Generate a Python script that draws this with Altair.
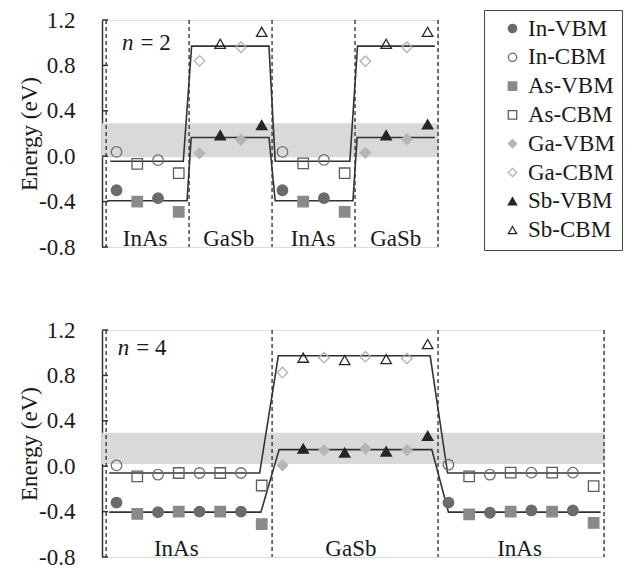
import altair as alt
import pandas as pd

FONT = "Liberation Serif"
FS = 23

# ---- legend / series definitions ----
series_names = ["In-VBM", "In-CBM", "As-VBM", "As-CBM", "Ga-VBM", "Ga-CBM", "Sb-VBM", "Sb-CBM"]
series_shapes = ["circle", "circle", "square", "square", "diamond", "diamond", "triangle-up", "triangle-up"]
series_fill = ["#6b6b6b", "transparent", "#8a8a8a", "transparent", "#b5b5b5", "transparent", "#262626", "transparent"]
series_stroke = ["#6b6b6b", "#6e6e6e", "#8a8a8a", "#5e5e5e", "#b5b5b5", "#b0b0b0", "#262626", "#262626"]

# ---- panel n = 2 ----
top_species = ["In", "As", "In", "As", "Ga", "Sb", "Ga", "Sb",
               "In", "As", "In", "As", "Ga", "Sb", "Ga", "Sb"]
top_vbm = [-0.30, -0.40, -0.37, -0.49, 0.025, 0.185, 0.145, 0.275,
           -0.30, -0.40, -0.37, -0.49, 0.03, 0.185, 0.15, 0.28]
top_cbm = [0.038, -0.068, -0.035, -0.15, 0.84, 0.99, 0.96, 1.095,
           0.038, -0.064, -0.033, -0.15, 0.837, 0.99, 0.96, 1.096]
top_line_cbm_x = [0.2, 3.72, 4.12, 7.85, 8.15, 11.75, 12.12, 15.85]
top_line_cbm = [-0.045, -0.045, 0.97, 0.97, -0.045, -0.045, 0.97, 0.97]
top_line_vbm_x = [0.05, 3.9, 4.1, 7.85, 8.15, 11.9, 12.1, 15.85]
top_line_vbm = [-0.393, -0.393, 0.165, 0.165, -0.393, -0.393, 0.165, 0.165]
top_bounds = [0, 4, 8, 12, 16]
top_band = [-0.01, 0.29]
top_regions = ["InAs", "GaSb", "InAs", "GaSb"]
top_region_x = [1.88, 5.91, 9.98, 13.96]
top_note = ["n", "= 2"]
top_note_pos = [0.77, 0.94]
top_xmax = 16

# ---- panel n = 4 ----
bot_species = ["In", "As"] * 4 + ["Ga", "Sb"] * 4 + ["In", "As"] * 4
bot_vbm = [-0.32, -0.42, -0.405, -0.40, -0.40, -0.40, -0.40, -0.51,
           0.007, 0.155, 0.14, 0.12, 0.155, 0.13, 0.14, 0.267,
           -0.32, -0.425, -0.41, -0.40, -0.39, -0.40, -0.39, -0.50]
bot_cbm = [0.007, -0.09, -0.075, -0.06, -0.06, -0.06, -0.06, -0.17,
           0.826, 0.956, 0.956, 0.935, 0.965, 0.944, 0.95, 1.076,
           0.013, -0.09, -0.075, -0.057, -0.057, -0.057, -0.057, -0.175]
bot_line_cbm_x = [0.15, 7.4, 8.3, 15.62, 16.46, 23.84]
bot_line_cbm = [-0.06, -0.06, 0.973, 0.973, -0.06, -0.06]
bot_line_vbm_x = [0.15, 7.46, 8.34, 15.7, 16.5, 23.84]
bot_line_vbm = [-0.405, -0.405, 0.146, 0.146, -0.405, -0.405]
bot_bounds = [0, 8, 16, 24]
bot_band = [0.02, 0.295]
bot_regions = ["InAs", "GaSb", "InAs"]
bot_region_x = [3.38, 11.8, 19.93]
bot_note = ["n", "= 4"]
bot_note_pos = [0.565, 0.98]
bot_xmax = 24

tick_vals = [-0.8, -0.4, 0.0, 0.4, 0.8, 1.2]
region_label_y = -0.787
XMIN = -0.2
PX_PER_UNIT = 20.76
H = 227

yscale = alt.Scale(domain=[-0.8, 1.2], nice=False, zero=False)
yaxis = alt.Axis(values=tick_vals, ticks=False, grid=False,
                 labelExpr="replace(format(datum.value, '.1f'), '\u2212', '-')",
                 domainColor="#333333", domainWidth=1.5,
                 labelFont=FONT, labelFontSize=FS, labelColor="#1a1a1a", labelPadding=27,
                 title="Energy (eV)", titleFont=FONT, titleFontSize=FS, titleFontWeight="normal",
                 titleColor="#1a1a1a", titlePadding=-3)

legend = alt.Legend(title=None, orient="none", legendX=382, legendY=-10,
                    strokeColor="#444444", padding=7, symbolOffset=10,
                    labelFont=FONT, labelFontSize=FS, labelColor="#1a1a1a", labelOffset=4,
                    symbolSize=70, symbolStrokeWidth=1.3, rowPadding=4.8)


def panel(species, vbm, cbm, lcx, lc, lvx, lv, bounds, band, regions, region_x, note, note_pos, xmax):
    xscale = alt.Scale(domain=[XMIN, xmax], nice=False, zero=False)
    width = round((xmax - XMIN) * PX_PER_UNIT)

    rows = []
    for i, sp in enumerate(species):
        rows.append({"x": i + 0.5, "E": vbm[i], "series": sp + "-VBM"})
        rows.append({"x": i + 0.5, "E": cbm[i], "series": sp + "-CBM"})
    pts = pd.DataFrame(rows)

    lines = pd.DataFrame(
        [{"x": x, "E": e, "band": "CBM", "i": k} for k, (x, e) in enumerate(zip(lcx, lc))]
        + [{"x": x, "E": e, "band": "VBM", "i": k} for k, (x, e) in enumerate(zip(lvx, lv))]
    )
    band_df = pd.DataFrame({"x0": [XMIN], "x1": [xmax], "b0": [band[0]], "b1": [band[1]]})
    bounds_df = pd.DataFrame({"xb": bounds})
    ticks_df = pd.DataFrame({"t": tick_vals})
    reg_df = pd.DataFrame({"x": region_x, "label": regions, "E": [region_label_y] * len(regions)})
    note_df = pd.DataFrame({"x": [note_pos[0]], "E": [note_pos[1]], "a": [note[0]], "b": [note[1]]})

    band_layer = alt.Chart(band_df).mark_rect(color="#d9d9d9").encode(
        x=alt.X("x0:Q", scale=xscale, axis=None), x2="x1:Q",
        y=alt.Y("b0:Q", scale=yscale, axis=yaxis), y2="b1:Q")

    tick_layer = alt.Chart(ticks_df).mark_rule(color="#333333", strokeWidth=1.5).encode(
        y=alt.Y("t:Q", scale=yscale, axis=yaxis), x=alt.value(0), x2=alt.value(6))

    bound_layer = alt.Chart(bounds_df).mark_rule(color="#3a3a3a", strokeWidth=1.4, strokeDash=[4, 3]).encode(
        x=alt.X("xb:Q", scale=xscale, axis=None))

    line_layer = alt.Chart(lines).mark_line(color="#333333", strokeWidth=1.6).encode(
        x=alt.X("x:Q", scale=xscale, axis=None),
        y=alt.Y("E:Q", scale=yscale, axis=yaxis),
        detail="band:N", order="i:Q")

    pt_layer = alt.Chart(pts).mark_point(filled=False, size=110, opacity=1, strokeWidth=1.3).encode(
        x=alt.X("x:Q", scale=xscale, axis=None),
        y=alt.Y("E:Q", scale=yscale, axis=yaxis),
        shape=alt.Shape("series:N", scale=alt.Scale(domain=series_names, range=series_shapes), legend=legend),
        fill=alt.Fill("series:N", scale=alt.Scale(domain=series_names, range=series_fill), legend=legend),
        stroke=alt.Stroke("series:N", scale=alt.Scale(domain=series_names, range=series_stroke), legend=legend))

    reg_layer = alt.Chart(reg_df).mark_text(font=FONT, fontSize=FS, color="#1a1a1a", baseline="alphabetic").encode(
        x=alt.X("x:Q", scale=xscale, axis=None),
        y=alt.Y("E:Q", scale=yscale, axis=yaxis), text="label:N")

    note_a = alt.Chart(note_df).mark_text(font=FONT, fontSize=FS, fontStyle="italic", color="#1a1a1a",
                                          align="left", baseline="alphabetic").encode(
        x=alt.X("x:Q", scale=xscale, axis=None),
        y=alt.Y("E:Q", scale=yscale, axis=yaxis), text="a:N")
    note_b = alt.Chart(note_df).mark_text(font=FONT, fontSize=FS, color="#1a1a1a",
                                          align="left", baseline="alphabetic", dx=18.5).encode(
        x=alt.X("x:Q", scale=xscale, axis=None),
        y=alt.Y("E:Q", scale=yscale, axis=yaxis), text="b:N")

    return alt.layer(band_layer, tick_layer, bound_layer, line_layer, pt_layer,
                     reg_layer, note_a, note_b).properties(width=width, height=H)


top = panel(top_species, top_vbm, top_cbm, top_line_cbm_x, top_line_cbm, top_line_vbm_x, top_line_vbm,
            top_bounds, top_band, top_regions, top_region_x, top_note, top_note_pos, top_xmax)
bot = panel(bot_species, bot_vbm, bot_cbm, bot_line_cbm_x, bot_line_cbm, bot_line_vbm_x, bot_line_vbm,
            bot_bounds, bot_band, bot_regions, bot_region_x, bot_note, bot_note_pos, bot_xmax)

chart = alt.vconcat(top, bot, spacing=58).properties(
    padding={"left": 18, "top": 8, "right": 5, "bottom": 3}
).configure_view(stroke=None).configure(background="white")

chart.save("out.html", embed_options={"renderer": "svg", "actions": False})
